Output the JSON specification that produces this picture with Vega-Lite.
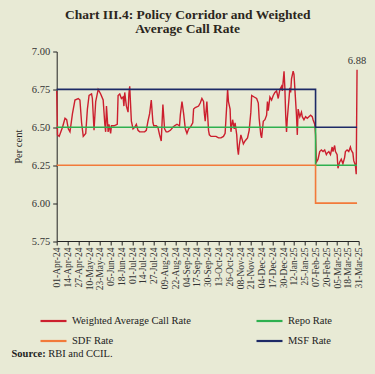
{
  "$schema": "https://vega.github.io/schema/vega-lite/v6.json",
  "width": 302,
  "height": 189.5,
  "autosize": {"type": "none"},
  "padding": {"left": 56.7, "top": 51.5, "right": 16.3, "bottom": 133},
  "background": "#e8ead5",
  "title": {
    "text": ["Chart III.4: Policy Corridor and Weighted", "Average Call Rate"],
    "font": "Liberation Serif",
    "fontSize": 13.5,
    "fontWeight": "bold",
    "color": "#2b2620",
    "anchor": "middle",
    "dx": -20,
    "offset": 11,
    "lineHeight": 14
  },
  "datasets": {
    "wacr": [
      {"date": "2024-04-01", "value": 6.74}, {"date": "2024-04-02", "value": 6.45}, {"date": "2024-04-04", "value": 6.44},
      {"date": "2024-04-06", "value": 6.47}, {"date": "2024-04-08", "value": 6.50}, {"date": "2024-04-11", "value": 6.56},
      {"date": "2024-04-13", "value": 6.55}, {"date": "2024-04-15", "value": 6.49}, {"date": "2024-04-17", "value": 6.47},
      {"date": "2024-04-20", "value": 6.59}, {"date": "2024-04-23", "value": 6.68}, {"date": "2024-04-27", "value": 6.69},
      {"date": "2024-04-29", "value": 6.68}, {"date": "2024-05-01", "value": 6.53}, {"date": "2024-05-03", "value": 6.44},
      {"date": "2024-05-06", "value": 6.46}, {"date": "2024-05-08", "value": 6.62}, {"date": "2024-05-10", "value": 6.71},
      {"date": "2024-05-13", "value": 6.72}, {"date": "2024-05-14", "value": 6.69}, {"date": "2024-05-16", "value": 6.48},
      {"date": "2024-05-18", "value": 6.67}, {"date": "2024-05-21", "value": 6.75}, {"date": "2024-05-24", "value": 6.72},
      {"date": "2024-05-27", "value": 6.68}, {"date": "2024-05-29", "value": 6.52}, {"date": "2024-05-30", "value": 6.47},
      {"date": "2024-05-31", "value": 6.64}, {"date": "2024-06-02", "value": 6.47}, {"date": "2024-06-03", "value": 6.52},
      {"date": "2024-06-05", "value": 6.46}, {"date": "2024-06-06", "value": 6.51}, {"date": "2024-06-09", "value": 6.51},
      {"date": "2024-06-13", "value": 6.52}, {"date": "2024-06-14", "value": 6.71}, {"date": "2024-06-16", "value": 6.72},
      {"date": "2024-06-18", "value": 6.69}, {"date": "2024-06-20", "value": 6.70}, {"date": "2024-06-21", "value": 6.64},
      {"date": "2024-06-22", "value": 6.73}, {"date": "2024-06-24", "value": 6.64}, {"date": "2024-06-26", "value": 6.60},
      {"date": "2024-06-27", "value": 6.72}, {"date": "2024-06-28", "value": 6.77}, {"date": "2024-06-30", "value": 6.54},
      {"date": "2024-07-02", "value": 6.49}, {"date": "2024-07-04", "value": 6.50}, {"date": "2024-07-06", "value": 6.52},
      {"date": "2024-07-08", "value": 6.48}, {"date": "2024-07-10", "value": 6.47}, {"date": "2024-07-14", "value": 6.47},
      {"date": "2024-07-16", "value": 6.47}, {"date": "2024-07-18", "value": 6.48}, {"date": "2024-07-20", "value": 6.54},
      {"date": "2024-07-22", "value": 6.59}, {"date": "2024-07-24", "value": 6.68}, {"date": "2024-07-26", "value": 6.53},
      {"date": "2024-07-27", "value": 6.51}, {"date": "2024-07-30", "value": 6.51}, {"date": "2024-08-01", "value": 6.50},
      {"date": "2024-08-03", "value": 6.45}, {"date": "2024-08-05", "value": 6.41}, {"date": "2024-08-07", "value": 6.65},
      {"date": "2024-08-09", "value": 6.49}, {"date": "2024-08-11", "value": 6.47}, {"date": "2024-08-13", "value": 6.47},
      {"date": "2024-08-16", "value": 6.48}, {"date": "2024-08-19", "value": 6.50}, {"date": "2024-08-21", "value": 6.51},
      {"date": "2024-08-24", "value": 6.52}, {"date": "2024-08-27", "value": 6.51}, {"date": "2024-08-28", "value": 6.58},
      {"date": "2024-08-30", "value": 6.67}, {"date": "2024-09-01", "value": 6.59}, {"date": "2024-09-03", "value": 6.49},
      {"date": "2024-09-05", "value": 6.46}, {"date": "2024-09-07", "value": 6.49}, {"date": "2024-09-09", "value": 6.50},
      {"date": "2024-09-12", "value": 6.53}, {"date": "2024-09-13", "value": 6.62}, {"date": "2024-09-15", "value": 6.63},
      {"date": "2024-09-19", "value": 6.64}, {"date": "2024-09-21", "value": 6.66}, {"date": "2024-09-23", "value": 6.69},
      {"date": "2024-09-25", "value": 6.67}, {"date": "2024-09-26", "value": 6.59}, {"date": "2024-09-27", "value": 6.54},
      {"date": "2024-09-29", "value": 6.67}, {"date": "2024-10-01", "value": 6.48}, {"date": "2024-10-02", "value": 6.45},
      {"date": "2024-10-04", "value": 6.44}, {"date": "2024-10-07", "value": 6.44}, {"date": "2024-10-10", "value": 6.44},
      {"date": "2024-10-13", "value": 6.43}, {"date": "2024-10-16", "value": 6.43}, {"date": "2024-10-19", "value": 6.44},
      {"date": "2024-10-21", "value": 6.46}, {"date": "2024-10-23", "value": 6.65}, {"date": "2024-10-24", "value": 6.75},
      {"date": "2024-10-25", "value": 6.67}, {"date": "2024-10-27", "value": 6.62}, {"date": "2024-10-28", "value": 6.47},
      {"date": "2024-10-30", "value": 6.55}, {"date": "2024-11-01", "value": 6.49}, {"date": "2024-11-02", "value": 6.53},
      {"date": "2024-11-04", "value": 6.45}, {"date": "2024-11-05", "value": 6.36}, {"date": "2024-11-06", "value": 6.32},
      {"date": "2024-11-07", "value": 6.38}, {"date": "2024-11-09", "value": 6.45}, {"date": "2024-11-10", "value": 6.43},
      {"date": "2024-11-12", "value": 6.39}, {"date": "2024-11-14", "value": 6.41}, {"date": "2024-11-17", "value": 6.43},
      {"date": "2024-11-19", "value": 6.48}, {"date": "2024-11-21", "value": 6.60}, {"date": "2024-11-22", "value": 6.71},
      {"date": "2024-11-25", "value": 6.70}, {"date": "2024-11-28", "value": 6.69}, {"date": "2024-11-30", "value": 6.66},
      {"date": "2024-12-01", "value": 6.56}, {"date": "2024-12-03", "value": 6.45}, {"date": "2024-12-04", "value": 6.43},
      {"date": "2024-12-06", "value": 6.54}, {"date": "2024-12-08", "value": 6.55}, {"date": "2024-12-10", "value": 6.58},
      {"date": "2024-12-11", "value": 6.67}, {"date": "2024-12-12", "value": 6.61}, {"date": "2024-12-14", "value": 6.70},
      {"date": "2024-12-16", "value": 6.68}, {"date": "2024-12-18", "value": 6.71}, {"date": "2024-12-20", "value": 6.73},
      {"date": "2024-12-22", "value": 6.74}, {"date": "2024-12-24", "value": 6.69}, {"date": "2024-12-26", "value": 6.75},
      {"date": "2024-12-28", "value": 6.77}, {"date": "2024-12-29", "value": 6.74}, {"date": "2024-12-31", "value": 6.87},
      {"date": "2025-01-01", "value": 6.76}, {"date": "2025-01-02", "value": 6.58}, {"date": "2025-01-03", "value": 6.47},
      {"date": "2025-01-04", "value": 6.56}, {"date": "2025-01-06", "value": 6.69}, {"date": "2025-01-07", "value": 6.76},
      {"date": "2025-01-08", "value": 6.73}, {"date": "2025-01-09", "value": 6.82}, {"date": "2025-01-11", "value": 6.87},
      {"date": "2025-01-12", "value": 6.85}, {"date": "2025-01-13", "value": 6.76}, {"date": "2025-01-15", "value": 6.58},
      {"date": "2025-01-16", "value": 6.45}, {"date": "2025-01-17", "value": 6.62}, {"date": "2025-01-19", "value": 6.57},
      {"date": "2025-01-21", "value": 6.60}, {"date": "2025-01-22", "value": 6.57}, {"date": "2025-01-24", "value": 6.55},
      {"date": "2025-01-26", "value": 6.57}, {"date": "2025-01-28", "value": 6.56}, {"date": "2025-01-30", "value": 6.57},
      {"date": "2025-02-01", "value": 6.58}, {"date": "2025-02-03", "value": 6.57}, {"date": "2025-02-04", "value": 6.55},
      {"date": "2025-02-06", "value": 6.52}, {"date": "2025-02-07", "value": 6.45}, {"date": "2025-02-08", "value": 6.27},
      {"date": "2025-02-10", "value": 6.29}, {"date": "2025-02-12", "value": 6.34}, {"date": "2025-02-14", "value": 6.35},
      {"date": "2025-02-16", "value": 6.34}, {"date": "2025-02-18", "value": 6.35}, {"date": "2025-02-20", "value": 6.32},
      {"date": "2025-02-21", "value": 6.33}, {"date": "2025-02-23", "value": 6.34}, {"date": "2025-02-25", "value": 6.32},
      {"date": "2025-02-27", "value": 6.37}, {"date": "2025-02-28", "value": 6.34}, {"date": "2025-03-02", "value": 6.38},
      {"date": "2025-03-03", "value": 6.34}, {"date": "2025-03-05", "value": 6.32}, {"date": "2025-03-06", "value": 6.23},
      {"date": "2025-03-08", "value": 6.27}, {"date": "2025-03-10", "value": 6.29}, {"date": "2025-03-12", "value": 6.26},
      {"date": "2025-03-14", "value": 6.30}, {"date": "2025-03-15", "value": 6.34}, {"date": "2025-03-17", "value": 6.35},
      {"date": "2025-03-19", "value": 6.34}, {"date": "2025-03-21", "value": 6.37}, {"date": "2025-03-22", "value": 6.35},
      {"date": "2025-03-24", "value": 6.33}, {"date": "2025-03-25", "value": 6.28}, {"date": "2025-03-27", "value": 6.25},
      {"date": "2025-03-28", "value": 6.19}, {"date": "2025-03-29", "value": 6.88}
    ],
    "policy": [
      {"date": "2024-04-01", "rate": 6.50, "series": "Repo Rate"},
      {"date": "2025-02-07", "rate": 6.25, "series": "Repo Rate"},
      {"date": "2025-03-29", "rate": 6.25, "series": "Repo Rate"},
      {"date": "2024-04-01", "rate": 6.25, "series": "SDF Rate"},
      {"date": "2025-02-07", "rate": 6.00, "series": "SDF Rate"},
      {"date": "2025-03-29", "rate": 6.00, "series": "SDF Rate"},
      {"date": "2024-04-01", "rate": 6.75, "series": "MSF Rate"},
      {"date": "2025-02-07", "rate": 6.50, "series": "MSF Rate"},
      {"date": "2025-03-29", "rate": 6.50, "series": "MSF Rate"}
    ]
  },
  "layer": [
    {
      "data": {"name": "wacr"},
      "mark": {"type": "line", "strokeWidth": 1.4},
      "encoding": {
        "x": {
          "field": "date", "type": "temporal",
          "scale": {"type": "utc", "domain": [{"year": 2024, "month": 4, "date": 1, "utc": true}, {"year": 2025, "month": 3, "date": 31, "utc": true}]},
          "axis": {
            "orient": "bottom",
            "values": [
              {"year": 2024, "month": 4, "date": 1, "utc": true}, {"year": 2024, "month": 4, "date": 14, "utc": true},
              {"year": 2024, "month": 4, "date": 27, "utc": true}, {"year": 2024, "month": 5, "date": 10, "utc": true},
              {"year": 2024, "month": 5, "date": 23, "utc": true}, {"year": 2024, "month": 6, "date": 5, "utc": true},
              {"year": 2024, "month": 6, "date": 18, "utc": true}, {"year": 2024, "month": 7, "date": 1, "utc": true},
              {"year": 2024, "month": 7, "date": 14, "utc": true}, {"year": 2024, "month": 7, "date": 27, "utc": true},
              {"year": 2024, "month": 8, "date": 9, "utc": true}, {"year": 2024, "month": 8, "date": 22, "utc": true},
              {"year": 2024, "month": 9, "date": 4, "utc": true}, {"year": 2024, "month": 9, "date": 17, "utc": true},
              {"year": 2024, "month": 9, "date": 30, "utc": true}, {"year": 2024, "month": 10, "date": 13, "utc": true},
              {"year": 2024, "month": 10, "date": 26, "utc": true}, {"year": 2024, "month": 11, "date": 8, "utc": true},
              {"year": 2024, "month": 11, "date": 21, "utc": true}, {"year": 2024, "month": 12, "date": 4, "utc": true},
              {"year": 2024, "month": 12, "date": 17, "utc": true}, {"year": 2024, "month": 12, "date": 30, "utc": true},
              {"year": 2025, "month": 1, "date": 12, "utc": true}, {"year": 2025, "month": 1, "date": 25, "utc": true},
              {"year": 2025, "month": 2, "date": 7, "utc": true}, {"year": 2025, "month": 2, "date": 20, "utc": true},
              {"year": 2025, "month": 3, "date": 5, "utc": true}, {"year": 2025, "month": 3, "date": 18, "utc": true},
              {"year": 2025, "month": 3, "date": 31, "utc": true}
            ],
            "tickCount": 100,
            "format": "%d-%b-%y",
            "labelAngle": -90,
            "labelFont": "Liberation Serif",
            "labelFontSize": 9.5,
            "labelColor": "#333333",
            "labelPadding": 2,
            "labelFlush": false,
            "tickSize": 4,
            "tickColor": "#222222",
            "domainColor": "#222222",
            "grid": false,
            "title": "Source:",
            "titleFont": "Liberation Serif",
            "titleFontSize": 10.5,
            "titleFontWeight": "bold",
            "titleColor": "#222222",
            "titleX": -45.7,
            "titleY": 112,
            "titleAlign": "left",
            "titleBaseline": "middle",
            "titleAnchor": "start"
          }
        },
        "y": {
          "field": "value", "type": "quantitative",
          "scale": {"domain": [5.75, 7.0], "nice": false, "zero": false},
          "axis": {
            "values": [5.75, 6.0, 6.25, 6.5, 6.75, 7.0],
            "tickCount": 20,
            "format": ".2f",
            "labelFlush": false,
            "title": "Per cent",
            "titleFont": "Liberation Serif",
            "titleFontSize": 10.5,
            "titleFontWeight": "normal",
            "titleColor": "#222222",
            "titlePadding": 8,
            "labelFont": "Liberation Serif",
            "labelFontSize": 10.5,
            "labelColor": "#333333",
            "labelPadding": 3,
            "tickSize": 4,
            "tickColor": "#222222",
            "domainColor": "#222222",
            "grid": false
          }
        },
        "color": {"datum": "Weighted Average Call Rate", "type": "nominal"}
      }
    },
    {
      "data": {"name": "policy"},
      "mark": {"type": "line", "interpolate": "step-after", "strokeWidth": 1.6},
      "encoding": {
        "x": {
          "field": "date", "type": "temporal",
          "axis": {
            "orient": "top",
            "domain": false,
            "ticks": false,
            "labels": false,
            "grid": false,
            "title": "RBI and CCIL.",
            "titleFont": "Liberation Serif",
            "titleFontSize": 10.5,
            "titleFontWeight": "normal",
            "titleColor": "#222222",
            "titleX": -9,
            "titleY": 301.5,
            "titleAlign": "left",
            "titleBaseline": "middle",
            "titleAnchor": "start"
          }
        },
        "y": {"field": "rate", "type": "quantitative"},
        "color": {
          "field": "series", "type": "nominal",
          "scale": {
            "domain": ["Weighted Average Call Rate", "Repo Rate", "SDF Rate", "MSF Rate"],
            "range": ["#cc1f2e", "#2eb04f", "#f27a3a", "#1d2a66"]
          },
          "legend": {
            "orient": "none",
            "legendX": -17.7,
            "legendY": 255,
            "direction": "horizontal",
            "columns": 2,
            "title": null,
            "symbolType": "stroke",
            "symbolSize": 676,
            "symbolStrokeWidth": 2.2,
            "labelFont": "Liberation Serif",
            "labelFontSize": 10.5,
            "labelColor": "#222222",
            "labelOffset": 4,
            "labelLimit": 300,
            "columnPadding": 60,
            "rowPadding": -6,
            "padding": 0
          }
        }
      }
    },
    {
      "data": {"name": "wacr"},
      "transform": [{"filter": "datum.value == 6.88"}],
      "mark": {"type": "text", "dy": -9, "font": "Liberation Serif", "fontSize": 10.5, "color": "#333333"},
      "encoding": {
        "x": {"field": "date", "type": "temporal", "axis": null},
        "y": {"field": "value", "type": "quantitative"},
        "text": {"field": "value", "type": "quantitative", "format": ".2f"}
      }
    }
  ],
  "resolve": {"axis": {"x": "independent"}},
  "config": {
    "view": {"stroke": null},
    "axis": {"labelOverlap": false}
  }
}
